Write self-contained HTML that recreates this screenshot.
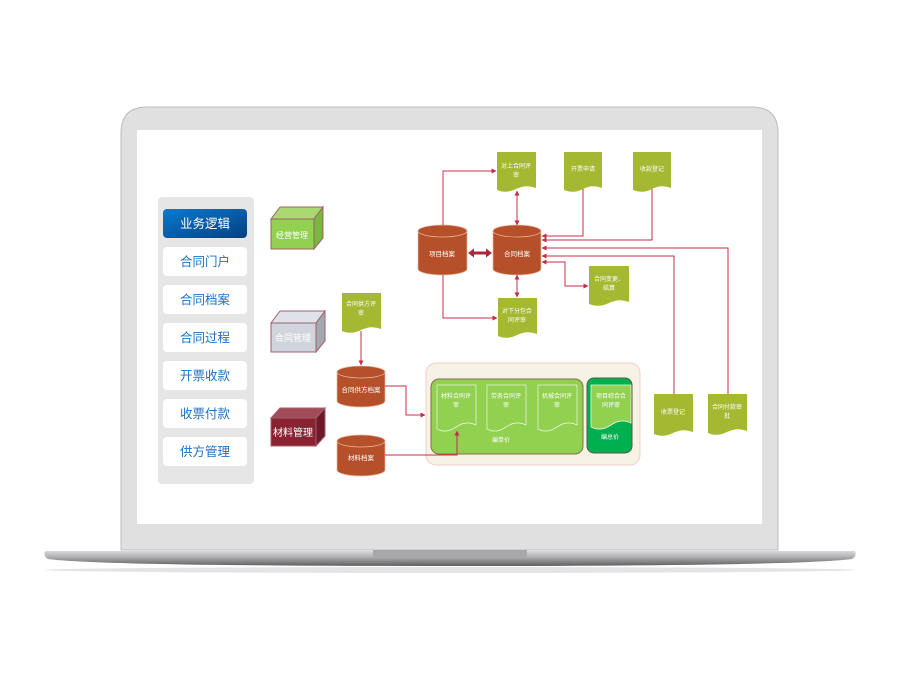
<!DOCTYPE html>
<html><head><meta charset="utf-8"><style>
html,body{margin:0;padding:0;background:#fff;}
svg{display:block;}
text{font-family:"Liberation Sans","Noto Sans CJK SC",sans-serif;}
</style></head><body>
<svg width="900" height="677" viewBox="0 0 900 677" xmlns="http://www.w3.org/2000/svg">
<defs>
<linearGradient id="blue" x1="0" y1="0" x2="1" y2="1"><stop offset="0" stop-color="#0a7ad0"/><stop offset="1" stop-color="#073f7e"/></linearGradient>
<linearGradient id="base" x1="0" y1="0" x2="0" y2="1"><stop offset="0" stop-color="#d8d8da"/><stop offset="0.4" stop-color="#b0b0b3"/><stop offset="1" stop-color="#5e5e60"/></linearGradient>
<marker id="a" viewBox="0 0 10 10" refX="9" refY="5" markerWidth="5" markerHeight="5" orient="auto-start-reverse"><path d="M0,0L10,5L0,10z" fill="#c0304a"/></marker>
</defs>
<path d="M121,550 L121,133 Q121,107 147,107 L752,107 Q778,107 778,133 L778,550 Z" fill="#e0e0e0" stroke="#bdbdbd" stroke-width="1"/>
<rect x="137" y="130" width="625" height="394" fill="#fff"/>
<ellipse cx="450" cy="570" rx="405" ry="3" fill="#e4e4e4"/>
<path d="M45,551 L855,551 Q857,556 852,559 Q800,566 450,566 Q100,566 48,559 Q43,556 45,551 Z" fill="url(#base)"/>
<path d="M373,550 L527,550 L527,555 Q527,558 522,558 L378,558 Q373,558 373,555 Z" fill="#a8a8aa"/>
<rect x="158" y="197" width="96" height="287" rx="4" fill="#e6e6e6"/>
<rect x="163" y="209" width="84" height="29" rx="4" fill="url(#blue)"/>
<text x="205" y="228" font-size="12.5" fill="#fff" text-anchor="middle">业务逻辑</text>
<g fill="#fff"><rect x="163" y="247" width="84" height="29" rx="4"/><rect x="163" y="285" width="84" height="29" rx="4"/><rect x="163" y="323" width="84" height="29" rx="4"/><rect x="163" y="361" width="84" height="29" rx="4"/><rect x="163" y="399" width="84" height="29" rx="4"/><rect x="163" y="437" width="84" height="29" rx="4"/></g>
<g font-size="12.5" fill="#1f6fc0" text-anchor="middle">
<text x="205" y="266">合同门户</text><text x="205" y="304">合同档案</text><text x="205" y="342">合同过程</text><text x="205" y="380">开票收款</text><text x="205" y="418">收票付款</text><text x="205" y="456">供方管理</text></g>
<g stroke="#a0606a" stroke-width="1">
<path d="M271,219 L280,207 L323,207 L314,219Z" fill="#a9d970"/><path d="M314,219 L323,207 L323,238 L314,249Z" fill="#7ab640"/><rect x="271" y="219" width="43" height="30" fill="#92d050"/>
<path d="M271,323 L280,311 L325,311 L316,323Z" fill="#dfe2e8"/><path d="M316,323 L325,311 L325,341 L316,352Z" fill="#a4a8b0"/><rect x="271" y="323" width="45" height="29" fill="#d0d4dc"/>
<path d="M271,418 L280,408 L325,408 L316,418Z" fill="#a14a58"/><path d="M316,418 L325,408 L325,436 L316,446Z" fill="#6e1a28"/><rect x="271" y="418" width="45" height="28" fill="#8b2232"/>
</g>
<text x="292" y="238" font-size="8" fill="#fff" text-anchor="middle">经营管理</text>
<text x="293" y="341" font-size="9" fill="#fff" text-anchor="middle">合同管理</text>
<text x="293" y="436" font-size="10" fill="#fff" text-anchor="middle">材料管理</text>
<rect x="426" y="363" width="214" height="102" rx="10" fill="#f7f2e6" stroke="#f0cfc6"/>
<rect x="431" y="379" width="152" height="75" rx="8" fill="#92d050" stroke="#8a6a50"/>
<rect x="587" y="378" width="45" height="75" rx="7" fill="#00b050" stroke="#5a5a40"/>
<g fill="#92d050" stroke="#e8f4d8" stroke-width="0.8">
<path d="M437,385h39v40q-10,-5-20,2t-19,2z"/><path d="M487,385h39v40q-10,-5-20,2t-19,2z"/><path d="M538,385h39v40q-10,-5-20,2t-19,2z"/></g>
<path d="M591,385h40v38q-10,-5-20,2t-20,2z" fill="#92d050" stroke="#e8f4d8" stroke-width="0.8"/>
<g font-size="6" fill="#fff" text-anchor="middle">
<text x="456" y="398">材料合同评</text><text x="456" y="407">审</text>
<text x="506" y="398">劳务合同评</text><text x="506" y="407">审</text>
<text x="557" y="398">机械合同评</text><text x="557" y="407">审</text>
<text x="611" y="398">项目综合合</text><text x="611" y="407">同评审</text>
<text x="501" y="442">编单价</text><text x="610" y="439">编总价</text></g>
<g fill="#a4b832">
<path d="M497,152h39v36q-10,-4-20,1t-19,1z"/>
<path d="M564,152h38v36q-10,-4-19,1t-19,1z"/>
<path d="M633,152h38v36q-10,-4-19,1t-19,1z"/>
<path d="M589,266h40v36q-10,-4-20,1t-20,1z"/>
<path d="M498,298h39v36q-10,-4-20,1t-19,1z"/>
<path d="M342,293h39v36q-10,-4-20,1t-19,1z"/>
<path d="M654,394h39v38q-10,-4-20,1t-19,1z"/>
<path d="M708,394h39v37q-10,-4-20,1t-19,1z"/>
</g>
<g font-size="6" fill="#fff" text-anchor="middle">
<text x="516" y="168">对上合同评</text><text x="516" y="177">审</text>
<text x="583" y="171">开票申请</text>
<text x="652" y="171">收款登记</text>
<text x="609" y="281">合同变更、</text><text x="609" y="290">结算</text>
<text x="517" y="313">对下分包合</text><text x="517" y="322">同评审</text>
<text x="361" y="306">合同供方评</text><text x="361" y="315">审</text>
<text x="673" y="414">收票登记</text>
<text x="727" y="409">合同付款审</text><text x="727" y="418">批</text></g>
<g fill="#b5502a" stroke="#e9b89c" stroke-width="0.7">
<path d="M418,231v38a24.5,6 0 0 0 49,0v-38z"/><ellipse cx="442.5" cy="231" rx="24.5" ry="6"/>
<path d="M493,231v38a24,6 0 0 0 48,0v-38z"/><ellipse cx="517" cy="231" rx="24" ry="6"/>
<path d="M337,372v29a24,6 0 0 0 48,0v-29z"/><ellipse cx="361" cy="372" rx="24" ry="6"/>
<path d="M337,441v29a24,6 0 0 0 48,0v-29z"/><ellipse cx="361" cy="441" rx="24" ry="6"/>
</g>
<g font-size="6.5" fill="#fff" text-anchor="middle">
<text x="442" y="256">项目档案</text><text x="517" y="256">合同档案</text>
<text x="361" y="392">合同供方档案</text><text x="361" y="460">材料档案</text></g>
<g fill="none" stroke="#c0304a" stroke-width="1">
<path d="M443,225V171H496" marker-end="url(#a)"/>
<path d="M443,275V318H497" marker-end="url(#a)"/>
<path d="M517,225V191" marker-end="url(#a)" marker-start="url(#a)"/>
<path d="M517,275V297" marker-end="url(#a)" marker-start="url(#a)"/>
<path d="M583,189V236H542" marker-end="url(#a)"/>
<path d="M652,189V240H542" marker-end="url(#a)"/>
<path d="M728,394V248H542" marker-end="url(#a)"/>
<path d="M674,394V256H542" marker-end="url(#a)"/>
<path d="M542,262H565V286H588" marker-end="url(#a)" marker-start="url(#a)"/>
<path d="M361,331V365" marker-end="url(#a)"/>
<path d="M385,386H406V415H425" marker-end="url(#a)"/>
<path d="M385,455H457V431" marker-end="url(#a)"/>
</g>
<path d="M468,253L474,248.5V251.5H486V248.5L492,253L486,257.5V254.5H474V257.5Z" fill="#a8283e"/>
</svg>
</body></html>
